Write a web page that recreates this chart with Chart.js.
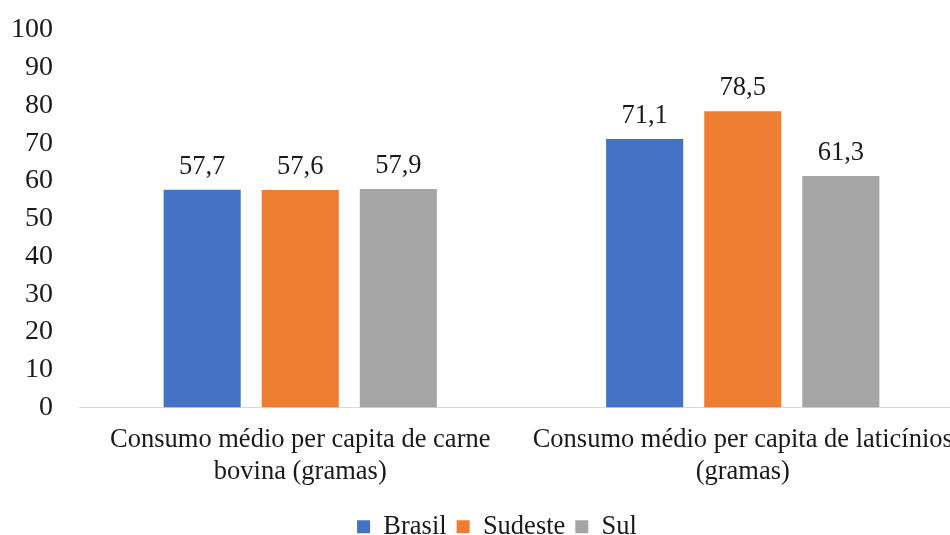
<!DOCTYPE html>
<html>
<head>
<meta charset="utf-8">
<script src="https://cdn.jsdelivr.net/npm/chart.js@4"></script>
<style>
  html, body { margin: 0; padding: 0; background: #fff; overflow: hidden; }
  #wrap { width: 964px; height: 535px; position: relative; }
</style>
</head>
<body>
<div id="wrap"><canvas id="consumoChart"></canvas></div>
<script>
// categorias e séries
const categorias = [
    ['Consumo médio per capita de carne', 'bovina (gramas)'],
    ['Consumo médio per capita de laticínios', '(gramas)']
];
const brasil = [57.7, 71.1];
const sudeste = [57.6, 78.5];
const sul = [57.9, 61.3];

const fonte = "'Liberation Serif', 'Times New Roman', serif";
const corTexto = '#1a1a1a';

// rótulos de valor acima das barras (sem plugin externo)
const rotulosPlugin = {
    id: 'rotulos',
    afterDatasetsDraw(chart) {
        const ctx = chart.ctx;
        ctx.save();
        ctx.font = '26.5px ' + fonte;
        ctx.fillStyle = corTexto;
        ctx.textAlign = 'center';
        ctx.textBaseline = 'alphabetic';
        chart.data.datasets.forEach((ds, i) => {
            chart.getDatasetMeta(i).data.forEach((bar, j) => {
                const txt = ds.data[j].toFixed(1).replace('.', ',');
                ctx.fillText(txt, bar.x, bar.y - 16);
            });
        });
        ctx.restore();
    }
};

// desloca a legenda para a direita e para baixo, como no original
const legendaPlugin = {
    id: 'legendaDesloc',
    afterLayout(chart) {
        if (chart.legend) {
            chart.legend.left += 15;
            chart.legend.right += 15;
            chart.legend.top += 7;
            chart.legend.bottom += 7;
        }
    }
};

new Chart(document.getElementById('consumoChart'), {
    type: 'bar',
    data: {
        labels: categorias,
        datasets: [
            { label: 'Brasil', data: brasil, backgroundColor: '#4472C4' },
            { label: 'Sudeste', data: sudeste, backgroundColor: '#ED7D31' },
            { label: 'Sul', data: sul, backgroundColor: '#A5A5A5' }
        ]
    },
    options: {
        responsive: true,
        maintainAspectRatio: false,
        animation: false,
        categoryPercentage: 0.665,
        barPercentage: 0.786,
        layout: { padding: { top: 30, left: 0, right: 0, bottom: -8 } },
        plugins: {
            tooltip: { enabled: false },
            legend: {
                position: 'bottom',
                labels: {
                    boxWidth: 13,
                    boxHeight: 13,
                    padding: 10,
                    color: corTexto,
                    font: { family: fonte, size: 26.5 }
                }
            }
        },
        scales: {
            x: {
                grid: { display: false },
                border: { display: true, color: '#d9d9d9', width: 1 },
                ticks: {
                    color: corTexto,
                    font: { family: fonte, size: 26.5, lineHeight: 1.19 },
                    maxRotation: 0,
                    autoSkip: false,
                    padding: 9
                }
            },
            y: {
                min: 0,
                max: 100,
                grid: { display: false, tickLength: 26 },
                border: { display: false },
                ticks: {
                    stepSize: 10,
                    color: corTexto,
                    font: { family: fonte, size: 28 },
                    padding: 0
                },
                afterFit(scale) { scale.width = 79; }
            }
        }
    },
    plugins: [rotulosPlugin, legendaPlugin]
});
</script>
</body>
</html>
